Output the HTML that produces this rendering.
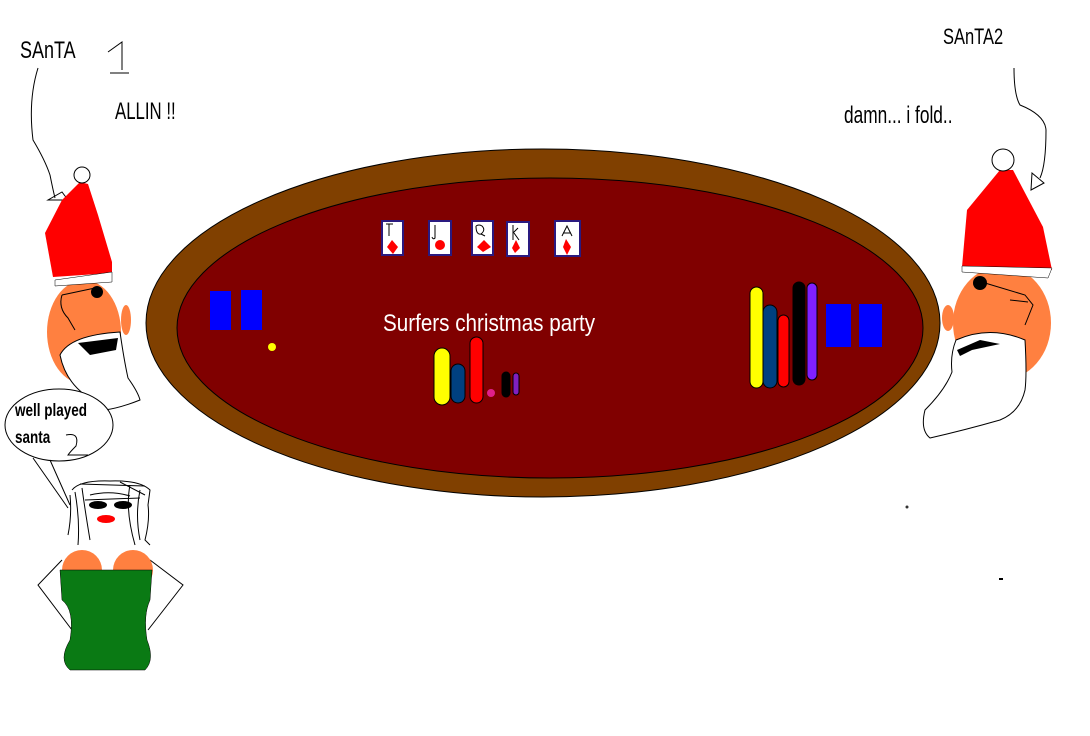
<!DOCTYPE html>
<html><head><style>
html,body{margin:0;padding:0;background:#fff;width:1090px;height:736px;overflow:hidden}
svg{display:block}
text{font-family:"Liberation Sans",sans-serif}
</style></head><body>
<svg width="1090" height="736" viewBox="0 0 1090 736" xmlns="http://www.w3.org/2000/svg">
<rect width="1090" height="736" fill="#fff"/>
<!-- table -->
<ellipse cx="543" cy="323" rx="397" ry="174" fill="#804000" stroke="#000"/>
<ellipse cx="550" cy="328" rx="373" ry="150" fill="#800000" stroke="#000"/>
<!-- cards -->
<g stroke="#2a1a80" stroke-width="2" fill="#fff">
<rect x="382" y="221" width="21" height="34"/>
<rect x="429" y="221" width="22" height="34"/>
<rect x="472" y="221" width="21" height="34"/>
<rect x="507" y="222" width="22" height="34"/>
<rect x="555" y="221" width="25" height="35"/>
</g>
<g fill="#f00">
<polygon points="392,240 398,247 393,254 387,247"/>
<circle cx="440" cy="245" r="5"/>
<polygon points="484,240 491,247 483,252 477,247"/>
<polygon points="516,240 520,248 515,253 512,248"/>
<polygon points="566,239 571,247 567,255 563,247"/>
</g>
<g stroke="#000" fill="none" stroke-width="1">
<path d="M386 224 H393 M389 224 V236"/>
<path d="M435 225 V238 Q433 240 432 237"/>
<path d="M476 226 Q476 235 481 234 Q486 230 482 226 Q479 224 476 226 M481 234 L485 236"/>
<path d="M513 225 V240 M513 233 L518 228 M514 233 L519 240"/>
<path d="M562 236 L567 226 L572 236 M563 233 H571"/>
</g>
<text x="383" y="331" fill="#fff" font-size="24" transform="translate(383 0) scale(0.86 1) translate(-383 0)">Surfers christmas party</text>
<!-- left chips -->
<g stroke="#000" stroke-width="1">
<rect x="434" y="348" width="16" height="57" rx="8" fill="#ff0"/>
<rect x="451" y="364" width="14" height="39" rx="7" fill="#004080"/>
<rect x="470" y="337" width="13" height="66" rx="6.5" fill="#f00"/>
<circle cx="491" cy="393" r="4" fill="#e0208a" stroke="none"/>
<rect x="502" y="372" width="8" height="25" rx="4" fill="#000"/>
<rect x="513" y="373" width="6" height="22" rx="3" fill="#8020c0"/>
</g>
<rect x="210" y="291" width="21" height="39" fill="#00f"/>
<rect x="241" y="290" width="21" height="40" fill="#00f"/>
<circle cx="272" cy="347" r="4" fill="#ff0"/>
<!-- right chips -->
<g stroke="#000" stroke-width="1">
<rect x="750" y="287" width="13" height="101" rx="6.5" fill="#ff0"/>
<rect x="763" y="305" width="14" height="83" rx="7" fill="#004080"/>
<rect x="778" y="315" width="11" height="72" rx="5.5" fill="#f00"/>
<rect x="793" y="282" width="12" height="103" rx="6" fill="#000"/>
<rect x="807" y="283" width="10" height="97" rx="5" fill="#8020ff"/>
</g>
<rect x="826" y="304" width="25" height="43" fill="#00f"/>
<rect x="859" y="304" width="23" height="43" fill="#00f"/>
<!-- labels -->
<text x="115" y="119" font-size="24" fill="#000" transform="translate(115 0) scale(0.7 1) translate(-115 0)">ALLIN !!</text>
<text x="844" y="123" font-size="24" fill="#000" transform="translate(844 0) scale(0.72 1) translate(-844 0)">damn... i fold..</text>
<text x="20" y="58" font-size="24" fill="#000" transform="translate(20 0) scale(0.75 1) translate(-20 0)">SAnTA</text>
<path d="M108 52 L122 42 V70 M110 73 H129" stroke="#000" fill="none"/>
<text x="943" y="44" font-size="22" fill="#000" transform="translate(943 0) scale(0.75 1) translate(-943 0)">SAnTA2</text>
<!-- arrows -->
<path d="M38 68 Q28 100 33 140 Q45 160 50 175 Q53 190 55 198 M48 200 L68 200 L62 192 Z" stroke="#000" fill="none"/>
<path d="M1014 68 Q1014 95 1020 105 Q1045 115 1046 130 Q1046 165 1040 178 M1031 190 L1044 183 L1032 173 Z" stroke="#000" fill="none"/>
<!-- left santa -->
<ellipse cx="84" cy="332" rx="37" ry="52" fill="#ff8040"/>
<path d="M60 355 Q70 335 120 332 Q124 360 128 378 Q138 392 140 400 Q120 408 105 410 Q100 400 85 395 Q65 380 60 355Z" fill="#fff" stroke="#000"/>
<ellipse cx="126" cy="320" rx="5" ry="15" fill="#ff8040"/>
<path d="M78 343 L118 338 L116 350 L90 355 Z" fill="#000"/>
<circle cx="97" cy="292" r="6" fill="#000"/>
<path d="M62 295 L95 288 M62 295 Q58 308 68 318 Q72 325 75 330" stroke="#000" fill="none"/>
<polygon points="53,277 45,233 62,200 80,182 88,184 98,215 112,262 112,273" fill="#f00"/>
<polygon points="55,280 112,272 112,282 55,286" fill="#fff" stroke="#000" stroke-width="0.5"/>
<circle cx="82" cy="175" r="8" fill="#fff" stroke="#000"/>
<!-- right santa -->
<ellipse cx="1002" cy="323" rx="49" ry="57" fill="#ff8040"/>
<path d="M956 340 Q990 325 1025 340 Q1027 375 1025 390 Q1020 412 1000 420 Q965 430 930 438 Q920 430 925 410 Q945 390 952 372 Q950 355 956 340Z" fill="#fff" stroke="#000"/>
<ellipse cx="948" cy="318" rx="6" ry="13" fill="#ff8040"/>
<path d="M957 350 L980 340 L1000 344 L972 350 L960 356Z" fill="#000"/>
<circle cx="980" cy="283" r="7" fill="#000"/>
<path d="M985 283 L1025 295 L1033 305 L1025 325 M1010 300 L1028 302" stroke="#000" fill="none"/>
<polygon points="962,267 967,210 1000,170 1013,170 1043,227 1052,270" fill="#f00"/>
<polygon points="962,266 1052,268 1048,278 962,272" fill="#fff" stroke="#000" stroke-width="0.5"/>
<circle cx="1003" cy="160" r="11" fill="#fff" stroke="#000"/>
<!-- woman -->
<ellipse cx="59" cy="425" rx="54" ry="36" fill="#fff" stroke="#000"/>
<text x="15" y="416" font-size="18" font-weight="bold" fill="#000" transform="translate(15 0) scale(0.75 1) translate(-15 0)">well played</text>
<text x="15" y="443" font-size="18" font-weight="bold" fill="#000" transform="translate(15 0) scale(0.75 1) translate(-15 0)">santa</text>
<path d="M66 435 Q80 432 76 446 Q70 452 68 455 L88 455" stroke="#000" fill="none"/>
<path d="M33 458 L68 508 M50 460 L70 505" stroke="#000" fill="none"/>
<ellipse cx="110" cy="515" rx="38" ry="45" fill="#fff"/>
<g stroke="#000" fill="none" stroke-width="1">
<path d="M72 490 Q80 480 110 481 Q140 480 150 490 L148 505 Q150 520 145 540 L150 545"/>
<path d="M70 495 Q72 515 68 535 M75 492 Q80 520 78 545 M82 488 Q85 510 90 540"/>
<path d="M140 490 Q135 515 140 540 M130 485 Q125 510 135 545 M120 482 L145 495"/>
<path d="M80 484 L145 486 M85 500 L140 498 M90 495 Q110 490 130 496"/>
</g>
<ellipse cx="98" cy="505" rx="9" ry="4" fill="#000"/>
<ellipse cx="123" cy="505" rx="9" ry="4" fill="#000"/>
<ellipse cx="106" cy="519" rx="9" ry="4" fill="#f00"/>
<path d="M62 560 L38 585 L72 630 M150 560 L183 585 L148 630" stroke="#000" fill="none"/>
<circle cx="82" cy="570" r="20" fill="#ff8040"/>
<circle cx="133" cy="570" r="20" fill="#ff8040"/>
<path d="M60 570 L152 570 L150 600 Q143 615 147 640 Q155 660 145 670 L70 670 Q58 660 70 640 Q75 610 62 600 Z" fill="#0a7a14" stroke="#000" stroke-width="0.5"/>
<circle cx="907" cy="507" r="1.5" fill="#333"/>
<rect x="999" y="578" width="4" height="2" fill="#000"/>
</svg>
</body></html>
